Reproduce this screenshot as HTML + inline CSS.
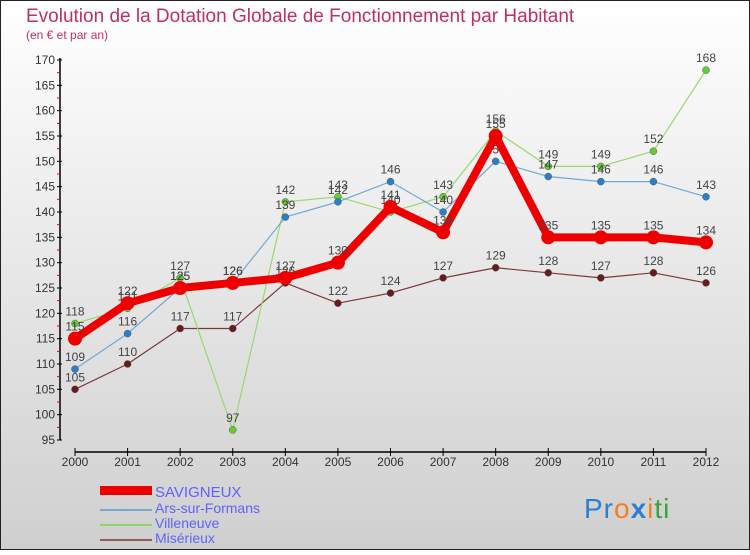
<!DOCTYPE html>
<html><head><meta charset="utf-8"><style>
body{margin:0;width:750px;height:550px;overflow:hidden;font-family:"Liberation Sans",sans-serif}
</style></head><body>
<svg id="chart" width="750" height="550" xmlns="http://www.w3.org/2000/svg" font-family="Liberation Sans, sans-serif">
<defs><linearGradient id="bg" x1="0" y1="0" x2="0" y2="1"><stop offset="0" stop-color="#ffffff"/><stop offset="1" stop-color="#cfcfcf"/></linearGradient></defs>
<rect x="0.5" y="0.5" width="749" height="549" fill="url(#bg)" stroke="#222"/>
<text x="26" y="22" font-size="19" fill="#c0305e">Evolution de la Dotation Globale de Fonctionnement par Habitant</text>
<text x="26" y="39" font-size="12" fill="#c0305e">(en € et par an)</text>
<g id="axes"></g><g id="series"></g>
<g>
<rect x="100" y="486" width="52" height="9" fill="#e00"/>
<text x="155" y="497" font-size="15" fill="#6060ff">SAVIGNEUX</text>
<line x1="100" x2="152" y1="510" y2="510" stroke="#7aa8cc" stroke-width="2"/>
<text x="155" y="513" font-size="14" fill="#6060ff">Ars-sur-Formans</text>
<line x1="100" x2="152" y1="525" y2="525" stroke="#8ed46a" stroke-width="2"/>
<text x="155" y="528" font-size="14" fill="#6060ff">Villeneuve</text>
<line x1="100" x2="152" y1="540" y2="540" stroke="#906060" stroke-width="2"/>
<text x="155" y="543" font-size="14" fill="#6060ff">Misérieux</text>
</g>
<text x="584" y="518" font-size="28" style="letter-spacing:1px"><tspan fill="#2a7fd4">Pr</tspan><tspan fill="#f08020">o</tspan><tspan fill="#2a7fd4" font-weight="bold">x</tspan><tspan fill="#f08020">i</tspan><tspan fill="#40a040">ti</tspan></text>
</svg>
<script>
const years=[2000,2001,2002,2003,2004,2005,2006,2007,2008,2009,2010,2011,2012];
const savigneux=[115,122,125,126,127,130,141,136,155,135,135,135,134];
const ars=[109,116,125,126,139,142,146,140,150,147,146,146,143];
const villeneuve=[118,121,127,97,142,143,140,143,156,149,149,152,168];
const miserieux=[105,110,117,117,126,122,124,127,129,128,127,128,126];
const yTicks=[95,100,105,110,115,120,125,130,135,140,145,150,155,160,165,170];
const NS="http://www.w3.org/2000/svg";
const x=i=>75+i*(706-75)/(years.length-1);
const y=v=>440-(v-95)*(380/75);
function mk(t,a,p){const e=document.createElementNS(NS,t);for(const k in a)e.setAttribute(k,a[k]);p.appendChild(e);return e;}
const ax=document.getElementById('axes');
mk('line',{x1:60,x2:60,y1:58,y2:440,stroke:'#000','stroke-width':1.5},ax);
yTicks.forEach(v=>{mk('line',{x1:57,x2:62,y1:y(v),y2:y(v),stroke:'#000'},ax);
 mk('line',{x1:57,x2:60,y1:y(v+2.5),y2:y(v+2.5),stroke:v<170?'#e00':'none'},ax);
 const t=mk('text',{x:55,y:y(v)+4,'text-anchor':'end','font-size':12,fill:'#333'},ax);
 
 
 t.textContent=v;});
mk('line',{x1:75,x2:706,y1:452,y2:452,stroke:'#000','stroke-width':1.5},ax);
years.forEach((yr,i)=>{mk('line',{x1:x(i),x2:x(i),y1:448,y2:456,stroke:'#000'},ax);
 const t=mk('text',{x:x(i),y:466,'text-anchor':'middle','font-size':12,fill:'#333'},ax);
 
 
 t.textContent=yr;});
const sg=document.getElementById('series');
function draw(data,name,color,dot,w,r){
 const g=mk('g',{},sg);
 
 
 mk('polyline',{points:data.map((v,i)=>x(i)+','+y(v)).join(' '),fill:'none',stroke:color,'stroke-width':w,'stroke-linejoin':'round'},g);
 data.forEach((v,i)=>{const c=mk('circle',{cx:x(i),cy:y(v),r:r,fill:dot,stroke:w>3?'none':'#555','stroke-width':0.5},g);
  
  
  const t=mk('text',{x:x(i),y:y(v)-8,'text-anchor':'middle','font-size':12,fill:'#444'},g);
  
  
  t.textContent=v;});
}
draw(miserieux,'miserieux','#7a3a3a','#6a1a1a',1.2,3.5);
draw(villeneuve,'villeneuve','#9ad870','#66cc33',1.2,3.5);
draw(ars,'ars','#6fa8d8','#2a80c8',1.2,3.5);
draw(savigneux,'savigneux','#ee0000','#ee0000',8,7);
</script>
</body></html>
